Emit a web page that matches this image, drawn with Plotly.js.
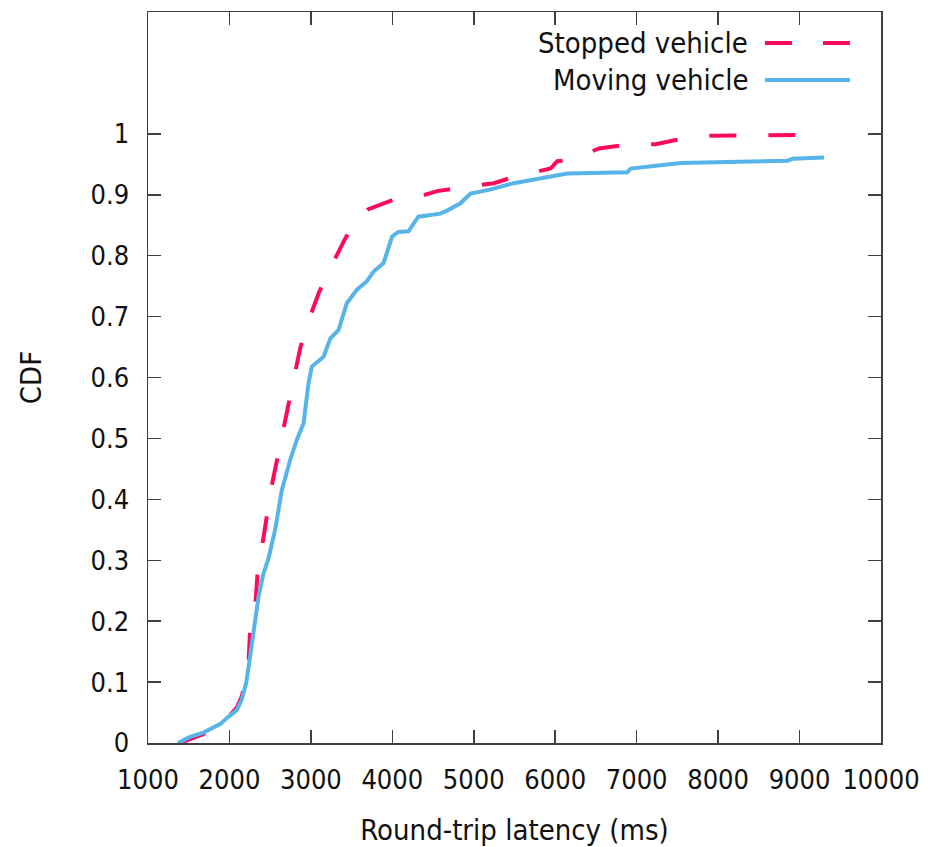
<!DOCTYPE html>
<html>
<head>
<meta charset="utf-8">
<script src="https://cdn.plot.ly/plotly-3.0.1.min.js"></script>
<style>html,body{margin:0;padding:0;background:#fff;}#chart{width:928px;height:847px;}</style>
</head>
<body>
<div id="chart"></div>
<script>
// Stopped vehicle CDF
const stoppedX = [1393, 1520, 1639, 1824, 2008, 2090, 2150, 2193, 2234, 2254, 2275, 2316, 2344, 2397, 2459, 2500, 2582, 2643, 2725, 2787, 2869, 2951, 3094, 3217, 3402, 3484, 3545, 3700, 3893, 4016, 4160, 4350, 4549, 4836, 5246, 5512, 5943, 6025, 6189, 6537, 6824, 7234, 7480, 7910, 8237, 8970];
const stoppedY = [0, 0.007, 0.013, 0.022, 0.046, 0.058, 0.076, 0.098, 0.131, 0.186, 0.207, 0.224, 0.276, 0.317, 0.372, 0.410, 0.465, 0.503, 0.558, 0.596, 0.648, 0.686, 0.738, 0.774, 0.823, 0.845, 0.858, 0.876, 0.886, 0.892, 0.893, 0.898, 0.906, 0.912, 0.919, 0.930, 0.943, 0.955, 0.957, 0.976, 0.981, 0.983, 0.990, 0.997, 0.997, 0.998];
// Moving vehicle CDF
const movingX = [1369, 1516, 1680, 1885, 1986, 2090, 2150, 2205, 2254, 2275, 2316, 2357, 2418, 2479, 2561, 2643, 2746, 2828, 2910, 2971, 3012, 3094, 3156, 3238, 3340, 3441, 3564, 3687, 3770, 3893, 3996, 4074, 4197, 4320, 4590, 4672, 4836, 4959, 5184, 5490, 5943, 6148, 6885, 6926, 7541, 8852, 8913, 9302];
const movingY = [0, 0.010, 0.017, 0.031, 0.043, 0.054, 0.071, 0.098, 0.142, 0.164, 0.207, 0.240, 0.278, 0.303, 0.350, 0.415, 0.465, 0.498, 0.525, 0.591, 0.618, 0.628, 0.634, 0.664, 0.678, 0.722, 0.744, 0.758, 0.774, 0.788, 0.831, 0.839, 0.840, 0.864, 0.869, 0.874, 0.886, 0.902, 0.908, 0.919, 0.930, 0.935, 0.937, 0.943, 0.952, 0.956, 0.959, 0.961];

const seriesNames = ["Stopped vehicle", "Moving vehicle"];
const xTickVals = [1000, 2000, 3000, 4000, 5000, 6000, 7000, 8000, 9000, 10000];
const xTickText = ["1000", "2000", "3000", "4000", "5000", "6000", "7000", "8000", "9000", "10000"];
const yTickVals = [0, 0.1, 0.2, 0.3, 0.4, 0.5, 0.6, 0.7, 0.8, 0.9, 1];
const yTickText = ["0", "0.1", "0.2", "0.3", "0.4", "0.5", "0.6", "0.7", "0.8", "0.9", "1"];

const RED = "#ff0a5a";
const BLUE = "#56b4e9";
const DASH = "27px,32px";
const FONT = "DejaVu Sans Condensed, DejaVu Sans, sans-serif";

const traces = [
  {x: stoppedX, y: stoppedY, name: seriesNames[0], mode: "lines", type: "scatter",
   line: {color: RED, width: 4, dash: DASH}, showlegend: false, hoverinfo: "skip"},
  {x: movingX, y: movingY, name: seriesNames[1], mode: "lines", type: "scatter",
   line: {color: BLUE, width: 4}, showlegend: false, hoverinfo: "skip"}
];

const axisCommon = {
  showgrid: false, zeroline: false, showline: true, mirror: "ticks",
  linecolor: "#404040", linewidth: 1.5, ticks: "inside", ticklen: 13,
  tickwidth: 1.5, tickcolor: "#404040",
  tickfont: {family: FONT, size: 27, color: "#111"}
};

const layout = {
  width: 928, height: 847,
  margin: {l: 148, r: 47, t: 12, b: 104, pad: 0},
  paper_bgcolor: "#fff", plot_bgcolor: "#fff",
  font: {family: FONT, color: "#111"},
  xaxis: Object.assign({}, axisCommon, {
    range: [1000, 10000], tickvals: xTickVals, ticktext: xTickText, ticklabelstandoff: 12,
    title: {text: "Round-trip latency (ms)", font: {family: FONT, size: 29, color: "#111"}, standoff: 28}
  }),
  yaxis: Object.assign({}, axisCommon, {
    range: [0, 1.2], tickvals: yTickVals, ticktext: yTickText, ticklabelstandoff: 12,
    title: {text: "CDF", font: {family: FONT, size: 29, color: "#111"}, standoff: 40}
  }),
  shapes: [
    {type: "line", xref: "paper", yref: "paper", x0: 0.8417, x1: 0.9577, y0: 0.9576, y1: 0.9576,
     line: {color: RED, width: 4, dash: "27px,31px"}},
    {type: "line", xref: "paper", yref: "paper", x0: 0.8417, x1: 0.9577, y0: 0.907, y1: 0.907,
     line: {color: BLUE, width: 4}}
  ],
  annotations: [
    {xref: "paper", yref: "paper", x: 0.8213, y: 0.9576, xanchor: "right", yanchor: "middle",
     text: seriesNames[0], showarrow: false, font: {family: FONT, size: 29, color: "#111"}},
    {xref: "paper", yref: "paper", x: 0.8213, y: 0.907, xanchor: "right", yanchor: "middle",
     text: seriesNames[1], showarrow: false, font: {family: FONT, size: 29, color: "#111"}}
  ]
};

Plotly.newPlot("chart", traces, layout, {staticPlot: true, displayModeBar: false});
</script>
</body>
</html>
